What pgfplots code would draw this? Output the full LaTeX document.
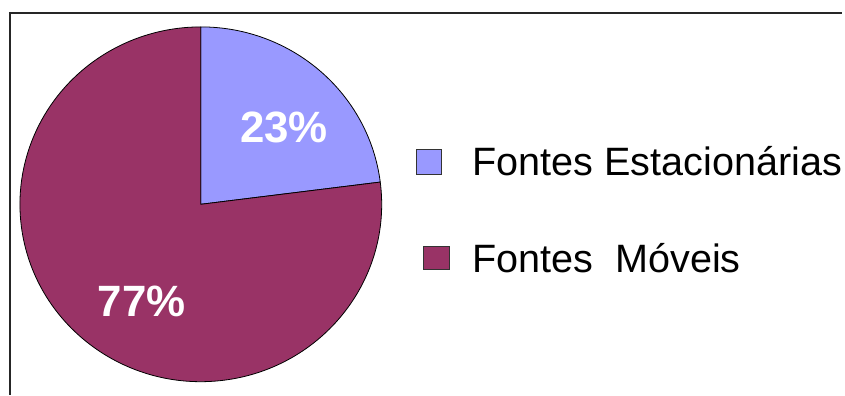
\documentclass[border=0pt]{standalone}
\usepackage{pgfplots}
\pgfplotsset{compat=1.18}
\usepackage{pgfplotstable}
\usepackage{fontspec}
\setmainfont{Liberation Sans}
\definecolor{estac}{HTML}{9999FF}
\definecolor{moveis}{HTML}{993366}

\pgfplotstableread{
label value
Estacionarias 23
Moveis 77
}\piedata

\begin{document}
\begin{tikzpicture}
\pgfplotstablegetelem{0}{value}\of\piedata \let\va\pgfplotsretval
\pgfplotstablegetelem{1}{value}\of\piedata \let\vb\pgfplotsretval
\pgfmathsetmacro\aA{90}
\pgfmathsetmacro\aB{90-\va*3.6}
\pgfmathsetmacro\aC{\aB-\vb*3.6}
\begin{axis}[x=1pt,y=1pt,xmin=0,xmax=845,ymin=0,ymax=396,
  scale only axis, hide axis, clip=false,
  legend cell align=left,
  legend style={draw=none, fill=none, at={(axis cs:414,250)}, anchor=north west,
    font=\fontsize{39.7}{44}\selectfont,
    nodes={inner sep=0pt, text height=28pt, text depth=0pt},
    row sep=69pt,
    /tikz/every odd column/.append style={column sep=23pt}},
]
\path (axis cs:0,0) rectangle (axis cs:845,396);
% pie sectors from table values
\filldraw[fill=estac, draw=black, line width=0.8pt]
  (axis cs:201.5,191) -- +(\aA:181.5pt and 178pt)
  arc[start angle=\aA, end angle=\aB, x radius=181.5pt, y radius=178pt] -- cycle;
\filldraw[fill=moveis, draw=black, line width=0.8pt]
  (axis cs:201.5,191) -- +(\aB:181.5pt and 178pt)
  arc[start angle=\aB, end angle=\aC, x radius=181.5pt, y radius=178pt] -- cycle;
\node[text=white, font=\bfseries\fontsize{44}{48}\selectfont] at (axis cs:285,268) {\va\%};
\node[text=white, font=\bfseries\fontsize{44}{48}\selectfont] at (axis cs:142,94) {\vb\%};
% frame
\draw[line width=2pt, black!85] (axis cs:9,383) -- (axis cs:845,383);
\draw[line width=2pt, black!85] (axis cs:10,384) -- (axis cs:10,0);
\addlegendimage{legend image code/.code={\draw[fill=estac,draw=black!80,line width=1pt] (0pt,-12.5pt) rectangle (25pt,12.5pt);}}
\addlegendentry{Fontes Estacionárias}
\addlegendimage{legend image code/.code={\draw[fill=moveis,draw=black!80,line width=1pt] (7pt,-11.5pt) rectangle (33pt,11.5pt);}}
\addlegendentry{Fontes\ \ Móveis}
\end{axis}
\end{tikzpicture}
\end{document}
